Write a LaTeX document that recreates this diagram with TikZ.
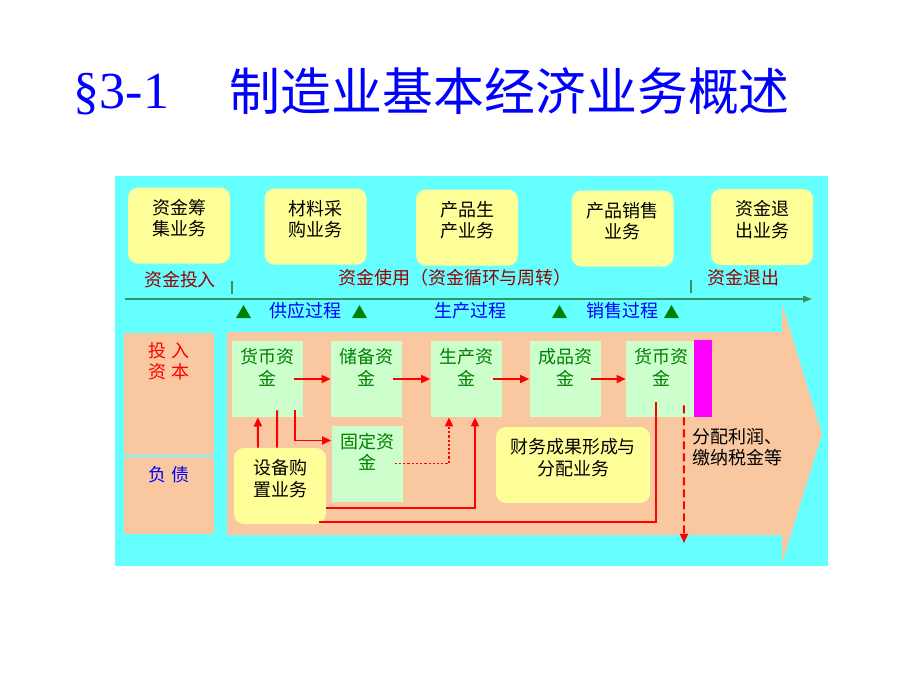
\documentclass[tikz,border=0pt]{standalone}
\usepackage{fontspec}
\setmainfont{Liberation Serif}
\newfontfamily\cjk{Noto Sans CJK SC}
\usetikzlibrary{calc,arrows.meta}
\definecolor{bgcyan}{HTML}{66FFFF}
\definecolor{flowpeach}{RGB}{250,200,160}
\definecolor{bizyellow}{HTML}{FFFF99}
\definecolor{cashgreen}{HTML}{CCFFCC}
\definecolor{darkgreen}{HTML}{008000}
\definecolor{axisgreen}{RGB}{51,150,100}
\definecolor{phasered}{HTML}{990000}
\definecolor{exitpink}{RGB}{255,0,255}
\newcommand{\bodyfont}{\cjk\fontsize{12.8}{15.4}\selectfont}

\begin{document}
\begin{tikzpicture}[x=0.25mm,y=-0.25mm,
  ybox/.style={fill=bizyellow,rounded corners=2.5mm,minimum width=25.5mm,
    minimum height=19mm,align=center,font=\bodyfont,text depth=4mm},
  gbox/.style={fill=cashgreen,minimum width=17.75mm,minimum height=19mm,
    align=center,font=\bodyfont,text=darkgreen,text depth=6mm},
  phase/.style={font=\bodyfont,text=phasered},
  stage/.style={font=\bodyfont,text=blue},
  flow/.style={red,line width=1.4pt,-{Triangle[length=2.3mm,width=2mm]}},
  flowline/.style={red,line width=1.4pt}]
\useasboundingbox (0,0) rectangle (920,690);

% title
\node[anchor=base west,text=blue,font=\fontsize{37}{40}\selectfont] (sec) at (69,108) {§3-1};
\node[anchor=base west,text=blue,font=\cjk\fontsize{36.2}{40}\selectfont] (title) at (225,110) {制造业基本经济业务概述};

\fill[bgcyan] (115,176) rectangle (828,566);

% business boxes
\node[ybox] (raise) at (179,225.5) {资金筹\\集业务};
\node[ybox] (purchase) at (315.5,226.5) {材料采\\购业务};
\node[ybox] (produce) at (467,227.5) {产品生\\产业务};
\node[ybox] (sell) at (622.5,228.5) {产品销售\\业务};
\node[ybox] (withdraw) at (762,227) {资金退\\出业务};

\node[phase] (inflow) at (180,280) {资金投入};
\node[phase] (usage) at (455,278) {资金使用（资金循环与周转）};
\node[phase] (outflow) at (743,278) {资金退出};

\draw[axisgreen,line width=2pt] (232,281) -- (232,294);
\draw[axisgreen,line width=2pt] (691,280) -- (691,293);
\coordinate (axisstart) at (125,299);
\coordinate (axisend) at (812,299);
\draw[axisgreen,line width=1.2pt,-{Triangle[length=2.2mm,width=1.6mm]}] (axisstart) -- (axisend);

\fill[darkgreen] (236,318) -- (251,318) -- (243.5,305) -- cycle;
\fill[darkgreen] (352,318) -- (367,318) -- (359.5,305) -- cycle;
\fill[darkgreen] (552,318) -- (567,318) -- (559.5,305) -- cycle;
\fill[darkgreen] (664,318) -- (679,318) -- (671.5,305) -- cycle;
\node[stage] (supply) at (305,311) {供应过程};
\node[stage] (making) at (470,311) {生产过程};
\node[stage] (selling) at (622,311) {销售过程};

% capital sources
\fill[flowpeach] (124,333) rectangle (214,455);
\fill[flowpeach] (124,457) rectangle (214,534);
\node[font=\bodyfont,text=red,align=center] (capital) at (169,361) {投 入\\资 本};
\node[font=\bodyfont,text=blue] (debt) at (169,475) {负 债};

% big flow arrow
\fill[flowpeach] (227,332) -- (782,332) -- (782,304) -- (822,434) -- (782,563)
  -- (782,535) -- (227,535) -- cycle;

\node[gbox] (cash1) at (267.5,379) {货币资\\金};
\node[gbox] (store) at (366.5,379) {储备资\\金};
\node[gbox] (work) at (466,379) {生产资\\金};
\node[gbox] (goods) at (565,379) {成品资\\金};
\node[gbox] (cash2) at (661.5,379) {货币资\\金};
\node[gbox] (fixed) at (367,463.5) {固定资\\金};
\fill[exitpink] (694,340) rectangle (712,417);

\node[ybox,minimum width=23mm] (equip) at (280,486) {设备购\\置业务};
\node[ybox,minimum width=38.5mm] (result) at (573,465) {财务成果形成与\\分配业务};
\node[font=\bodyfont,align=left,anchor=west] (payout) at (688,447) {分配利润、\\缴纳税金等};

% fund circulation
\draw[flow] ([xshift=-2.2mm]cash1.east) -- (store.west);
\draw[flow] ([xshift=-2.2mm]store.east) -- (work.west);
\draw[flow] ([xshift=-2.2mm]work.east) -- (goods.west);
\draw[flow] ([xshift=-2.5mm]goods.east) -- (cash2.west);
\draw[flow] ([xshift=6.9mm,yshift=1.75mm]cash1.south) |- ([yshift=5.75mm]fixed.west);
\draw[flow] ([xshift=-5.5mm]equip.north) -- ([xshift=-2.4mm]cash1.south);
\draw[flowline] ([xshift=2.4mm,yshift=1.75mm]cash1.south) -- ([xshift=-0.75mm]equip.north);
\draw[flow,dash pattern=on 1.6pt off 1.4pt] ([xshift=-2mm]fixed.east) -| ([xshift=-4.25mm]work.south);
\draw[flow] ([yshift=-5.5mm]equip.east) -| ([xshift=2.25mm]work.south);
\draw[flowline] ([xshift=-1.4mm,yshift=3.75mm]cash2.south) |- ([xshift=9.75mm,yshift=0.5mm]equip.south);
\coordinate (payend) at (684,543);
\draw[flow,dash pattern=on 2mm off 1mm] ([xshift=5.6mm,yshift=3mm]cash2.south) -- (payend);
\end{tikzpicture}
\end{document}
